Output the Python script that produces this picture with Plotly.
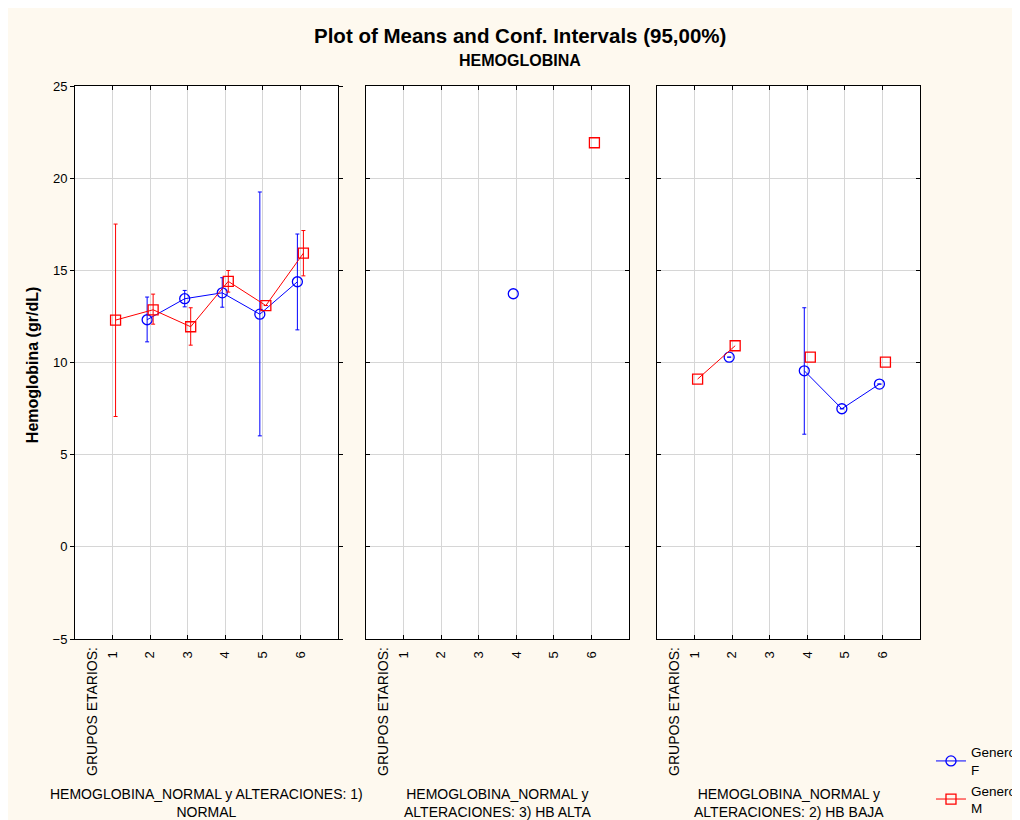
import plotly.graph_objects as go

groups = [1, 2, 3, 4, 5, 6]

# Panel 1: NORMAL
f_normal_mean = [None, 12.32, 13.46, 13.78, 12.62, 14.38]
f_normal_up = [None, 13.55, 13.91, 14.60, 19.25, 16.97]
f_normal_lo = [None, 11.12, 13.02, 13.00, 6.02, 11.77]
m_normal_mean = [12.30, 12.86, 11.94, 14.40, 13.09, 15.93]
m_normal_up = [17.51, 13.71, 12.97, 14.99, None, 17.16]
m_normal_lo = [7.07, 12.08, 10.94, 13.82, None, 14.70]

# Panel 2: HB ALTA
f_alta_mean = [None, None, None, 13.73, None, None]
m_alta_mean = [None, None, None, None, None, 21.92]

# Panel 3: HB BAJA
f_baja_mean = [None, 10.29, None, 9.55, 7.49, 8.83]
f_baja_up = [None, None, None, 12.97, None, None]
f_baja_lo = [None, None, None, 6.11, None, None]
m_baja_mean = [9.10, 10.91, None, 10.29, None, 10.02]

panel_labels = [
    "HEMOGLOBINA_NORMAL y ALTERACIONES: 1)<br>NORMAL",
    "HEMOGLOBINA_NORMAL y<br>ALTERACIONES: 3) HB ALTA",
    "HEMOGLOBINA_NORMAL y<br>ALTERACIONES: 2) HB BAJA",
]
title_text = "Plot of Means and Conf. Intervals (95,00%)"
subtitle_text = "HEMOGLOBINA"
y_label = "Hemoglobina (gr/dL)"
x_prefix = "GRUPOS ETARIOS:"

BLUE = "#0000FF"
RED = "#FF0000"
BG = "#FEF9EF"
FONT = "Liberation Sans, Arial, sans-serif"


def err(mean, up, lo):
    if up is None:
        return None, None
    plus = [None if (m is None or u is None) else u - m for m, u in zip(mean, up)]
    minus = [None if (m is None or l is None) else m - l for m, l in zip(mean, lo)]
    return plus, minus


fig = go.Figure()

panels = [
    (f_normal_mean, f_normal_up, f_normal_lo, m_normal_mean, m_normal_up, m_normal_lo),
    (f_alta_mean, None, None, m_alta_mean, None, None),
    (f_baja_mean, f_baja_up, f_baja_lo, m_baja_mean, None, None),
]

for i, (fm, fu, fl, mm, mu, ml) in enumerate(panels):
    xa = "x" if i == 0 else f"x{i+1}"
    ya = "y" if i == 0 else f"y{i+1}"
    for mean, up, lo, color, sym, size, off, name in [
        (fm, fu, fl, BLUE, "circle-open", 10, -0.08, "Genero<br>F"),
        (mm, mu, ml, RED, "square-open", 10, 0.08, "Genero<br>M"),
    ]:
        plus, minus = err(mean, up, lo)
        ey = dict(visible=False)
        if plus is not None:
            ey = dict(type="data", symmetric=False, array=plus, arrayminus=minus,
                      color=color, thickness=1, width=2, visible=True)
        fig.add_trace(go.Scatter(
            x=[g + off for g in groups], y=mean, mode="lines+markers",
            line=dict(color=color, width=1),
            marker=dict(symbol=sym, size=size, color=color, line=dict(width=1.3, color=color)),
            error_y=ey, connectgaps=False, name=name,
            showlegend=(i == 0), xaxis=xa, yaxis=ya,
        ))

domains = [[0.0, 0.3112], [0.3444, 0.6556], [0.6888, 1.0]]
axcommon = dict(showline=True, linecolor="black", linewidth=1, mirror="ticks",
                gridcolor="#D6D6D6", gridwidth=1, zeroline=False)
layout = dict(
    width=1020, height=820, paper_bgcolor=BG, plot_bgcolor="white",
    margin=dict(l=67, r=108, t=78, b=189, autoexpand=False),
    font=dict(family=FONT, color="black", size=13),
    showlegend=True,
    legend=dict(x=1.013, y=-0.177, xanchor="left", yanchor="top",
                bgcolor="rgba(0,0,0,0)", font=dict(size=13.5, family=FONT),
                tracegroupgap=0, itemwidth=30),
)
for i in range(3):
    xk = "xaxis" if i == 0 else f"xaxis{i+1}"
    yk = "yaxis" if i == 0 else f"yaxis{i+1}"
    layout[xk] = dict(domain=domains[i], range=[0, 7], tickvals=groups,
                      ticktext=[str(g) for g in groups], tickangle=-90,
                      ticks="inside", ticklen=4, tickcolor="black",
                      ticklabelstandoff=6,
                      tickfont=dict(size=13), anchor="y" if i == 0 else f"y{i+1}", **axcommon)
    layout[yk] = dict(range=[-5, 25], dtick=5, tick0=0, ticks="inside" if i else "outside",
                      ticklen=4, tickcolor="black", showticklabels=(i == 0),
                      tickfont=dict(size=13),
                      anchor="x" if i == 0 else f"x{i+1}", **axcommon)
    if i > 0:
        layout[yk]["matches"] = "y"
fig.update_layout(**layout)

ann = [
    dict(text=f"<b>{title_text}</b>", x=0.527, y=1.092, xref="paper", yref="paper",
         showarrow=False, font=dict(size=20.5), xanchor="center", yanchor="middle"),
    dict(text=f"<b>{subtitle_text}</b>", x=0.527, y=1.047, xref="paper", yref="paper",
         showarrow=False, font=dict(size=16), xanchor="center", yanchor="middle"),
    dict(text=f"<b>{y_label}</b>", x=-0.051, y=0.495, xref="paper", yref="paper",
         showarrow=False, font=dict(size=16), textangle=-90, xanchor="center", yanchor="middle"),
]
for i in range(3):
    xr = "x" if i == 0 else f"x{i+1}"
    ann.append(dict(text=x_prefix, x=0.45, y=-0.010, xref=xr, yref="paper",
                    showarrow=False, textangle=-90, font=dict(size=14),
                    xanchor="center", yanchor="top"))
    ann.append(dict(text=panel_labels[i], x=3.5, y=-0.2966, xref=xr, yref="paper",
                    showarrow=False, font=dict(size=14), xanchor="center", yanchor="middle"))
fig.update_layout(annotations=ann)

fig.write_html("out.html")
